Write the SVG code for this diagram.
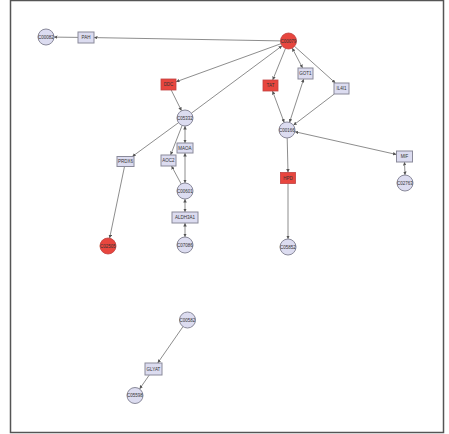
<svg xmlns="http://www.w3.org/2000/svg" width="449" height="434" viewBox="0 0 449 434">
<style>
.c{fill:#dcdcf0;stroke:#8a8a9a;stroke-width:1}
.r{fill:#e8463e;stroke:#c04040;stroke-width:0.8}
.b{fill:#dcdcf0;stroke:#8a8a9a;stroke-width:1}
.t{font-family:"Liberation Sans",Arial,sans-serif;font-size:4.5px;fill:#333;text-anchor:middle;dominant-baseline:central}
.e line{stroke:#808080;stroke-width:0.9;marker-end:url(#a)}
.e line.bi{marker-start:url(#s)}
</style>
<defs>
<marker id="a" viewBox="0 0 6 6" refX="6" refY="3" markerWidth="3.5" markerHeight="3.5" markerUnits="userSpaceOnUse" orient="auto"><path d="M0,0L6,3L0,6z" fill="#555"/></marker>
<marker id="s" viewBox="0 0 6 6" refX="0" refY="3" markerWidth="3.5" markerHeight="3.5" markerUnits="userSpaceOnUse" orient="auto"><path d="M6,0L0,3L6,6z" fill="#555"/></marker>
</defs>
<rect x="0" y="0" width="449" height="434" fill="#fff"/>
<rect x="10.5" y="0.5" width="433" height="432" fill="none" stroke="#555" stroke-width="1.5"/>
<g class="e" id="edges">
<line x1="280.5" y1="40.9" x2="94" y2="37.6"/>
<line x1="78" y1="37.4" x2="54" y2="37.1"/>
<line x1="281" y1="43.7" x2="176" y2="81.8"/>
<line x1="171.2" y1="90" x2="181.5" y2="110.8"/>
<line x1="191.4" y1="113.2" x2="282.1" y2="45.8"/>
<line x1="285.5" y1="48.4" x2="272.7" y2="80"/>
<line class="bi" x1="272.5" y1="91" x2="284.2" y2="122.5"/>
<line class="bi" x1="292.2" y1="48.1" x2="302.6" y2="68"/>
<line class="bi" x1="303.7" y1="79" x2="289.5" y2="122.4"/>
<line x1="294.5" y1="46.3" x2="335.4" y2="83"/>
<line x1="334.3" y1="94" x2="293.4" y2="125.2"/>
<line x1="287.2" y1="138" x2="288" y2="172.5"/>
<line x1="288" y1="183.5" x2="288" y2="239"/>
<line class="bi" x1="294.8" y1="131.7" x2="396.5" y2="154.5"/>
<line class="bi" x1="404.5" y1="162" x2="405" y2="175"/>
<line x1="178.5" y1="122.7" x2="132.3" y2="156.5"/>
<line x1="124.5" y1="166.5" x2="109.6" y2="238.2"/>
<line x1="182.1" y1="125.5" x2="170.6" y2="155"/>
<line x1="181.2" y1="184" x2="171.5" y2="166"/>
<line class="bi" x1="185" y1="126" x2="185" y2="143"/>
<line class="bi" x1="185" y1="183" x2="185" y2="153"/>
<line class="bi" x1="185" y1="199" x2="185" y2="212"/>
<line class="bi" x1="185" y1="223" x2="185" y2="237"/>
<line x1="183" y1="326.6" x2="157.7" y2="363"/>
<line x1="149.3" y1="375" x2="139.6" y2="388.9"/>
</g>
<g id="C00082"><circle class="c" cx="46" cy="37" r="8"/><text class="t" x="46" y="37">C00082</text></g>
<g id="PAH"><rect class="b" x="78" y="32" width="16" height="11"/><text class="t" x="86" y="37.5">PAH</text></g>
<g id="C00079"><circle class="r" cx="288.5" cy="41" r="8"/><text class="t" x="288.5" y="41">C00079</text></g>
<g id="DDC"><rect class="r" x="161" y="79" width="15" height="11"/><text class="t" x="168.5" y="84.5">DDC</text></g>
<g id="TAT"><rect class="r" x="263" y="80" width="15" height="11"/><text class="t" x="270.5" y="85.5">TAT</text></g>
<g id="GOT1"><rect class="b" x="298" y="68" width="15" height="11"/><text class="t" x="305.5" y="73.5">GOT1</text></g>
<g id="IL4I1"><rect class="b" x="334" y="83" width="15" height="11"/><text class="t" x="341.5" y="88.5">IL4I1</text></g>
<g id="C05332"><circle class="c" cx="185" cy="118" r="8"/><text class="t" x="185" y="118">C05332</text></g>
<g id="C00166"><circle class="c" cx="287" cy="130" r="8"/><text class="t" x="287" y="130">C00166</text></g>
<g id="PRDX6"><rect class="b" x="117" y="156.5" width="17" height="10"/><text class="t" x="125.5" y="161.5">PRDX6</text></g>
<g id="AOC2"><rect class="b" x="161" y="155" width="15" height="11"/><text class="t" x="168.5" y="160.5">AOC2</text></g>
<g id="MAOA"><rect class="b" x="177" y="143" width="16" height="10"/><text class="t" x="185" y="148">MAOA</text></g>
<g id="C00601"><circle class="c" cx="185" cy="191" r="8"/><text class="t" x="185" y="191">C00601</text></g>
<g id="ALDH3A1"><rect class="b" x="172" y="212" width="26" height="11"/><text class="t" x="185" y="217.5">ALDH3A1</text></g>
<g id="C07086"><circle class="c" cx="185" cy="245" r="8"/><text class="t" x="185" y="245">C07086</text></g>
<g id="C02505"><circle class="r" cx="108" cy="246" r="8"/><text class="t" x="108" y="246">C02505</text></g>
<g id="HPD"><rect class="r" x="280.5" y="172.5" width="15" height="11"/><text class="t" x="288" y="178">HPD</text></g>
<g id="C05852"><circle class="c" cx="288" cy="247" r="8"/><text class="t" x="288" y="247">C05852</text></g>
<g id="MIF"><rect class="b" x="396.5" y="151" width="16" height="11"/><text class="t" x="404.5" y="156.5">MIF</text></g>
<g id="C02763"><circle class="c" cx="405" cy="183" r="8"/><text class="t" x="405" y="183">C02763</text></g>
<g id="C00582"><circle class="c" cx="187.5" cy="320" r="8"/><text class="t" x="187.5" y="320">C00582</text></g>
<g id="GLYAT"><rect class="b" x="145" y="363" width="17" height="12"/><text class="t" x="153.5" y="369">GLYAT</text></g>
<g id="C05598"><circle class="c" cx="135" cy="395.5" r="8"/><text class="t" x="135" y="395.5">C05598</text></g>
</svg>
